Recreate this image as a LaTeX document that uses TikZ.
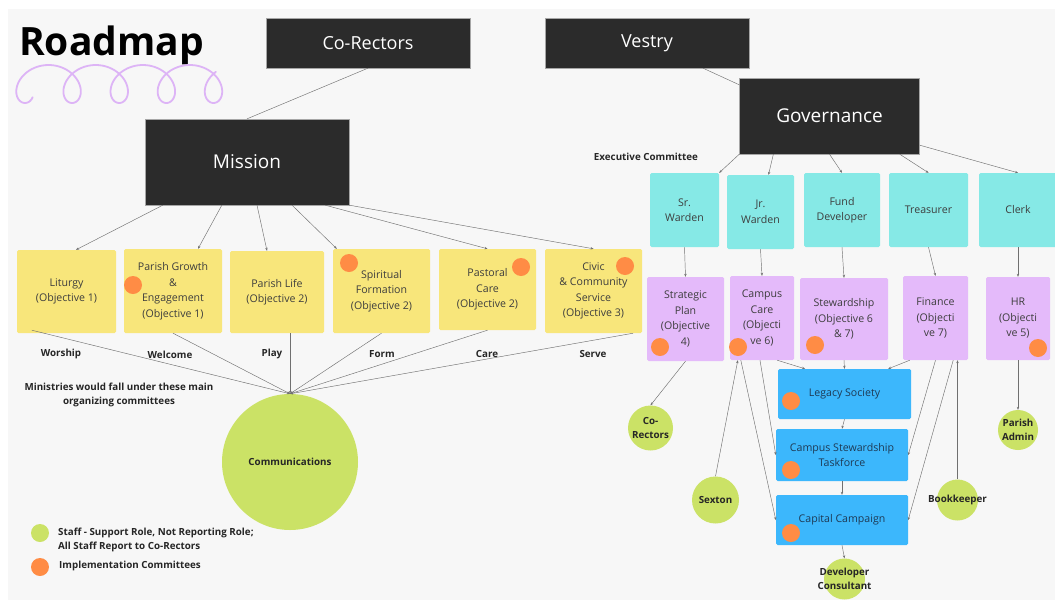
\documentclass[tikz,border=0pt]{standalone}
\usepackage{fontspec}
\setmainfont{Open Sans}
\usetikzlibrary{arrows.meta}

\definecolor{panel}{HTML}{F7F7F7}
\definecolor{ink}{HTML}{2B2B2B}
\definecolor{sticky}{HTML}{F8E67B}
\definecolor{aqua}{HTML}{86E9E6}
\definecolor{lilac}{HTML}{E4BAFA}
\definecolor{sky}{HTML}{3CB7FC}
\definecolor{lime}{HTML}{CBE266}
\definecolor{tang}{HTML}{FF8C45}
\definecolor{curl}{HTML}{DDB4F6}
\definecolor{wire}{HTML}{707070}
\definecolor{boxtxt}{HTML}{3D3D3D}
\definecolor{skytxt}{HTML}{1E3A55}

\begin{document}
\begin{tikzpicture}[x=1pt, y=-1pt,
  wh/.style 2 args={minimum width=#1, minimum height=#2},
  head/.style={rectangle, fill=ink, draw=gray!70, line width=0.3pt, text=white,
               inner sep=0pt, font=\fontsize{18}{20}\selectfont},
  obj/.style={rectangle, fill=sticky, rounded corners=1.5pt, inner sep=0pt,
              align=center, text=boxtxt, font=\fontsize{10.6}{15.5}\selectfont},
  officer/.style={obj, fill=aqua},
  cmte/.style={obj, fill=lilac},
  team/.style={obj, fill=sky, text=skytxt},
  staff/.style={circle, fill=lime, inner sep=0pt},
  impl/.style={circle, fill=tang, minimum size=18pt, inner sep=0pt},
  lbl/.style={text=black!85, font=\fontsize{9.8}{14}\selectfont\bfseries, inner sep=0pt},
  arr/.style={-{Stealth[length=3pt, width=2.4pt]}, line width=0.45pt, draw=wire},
  link/.style={line width=0.45pt, draw=wire}
]
\useasboundingbox (0,0) rectangle (1055,600);
\fill[white] (0,0) rectangle (1055,600);
\fill[panel] (8,9) rectangle (1055,600);

\node[anchor=base west, inner sep=0pt, font=\fontsize{39}{40}\selectfont\bfseries] (title) at (19,55) {Roadmap};
\draw[curl, line width=1.8pt, line cap=round]
  plot[domain=-0.8:27.4, samples=260, smooth] ({25+7.5*\x-19*sin(\x r)},{84+19*cos(\x r)});

\node[head, wh={204pt}{50pt}] (corect) at (368,43) {Co-Rectors};
\node[head, wh={204pt}{50pt}] (vestry) at (647,43) {Vestry};
\node[head, wh={180pt}{76pt}, font=\fontsize{19}{20}\selectfont] (gov) at (829.5,116) {Governance};
\node[head, wh={204pt}{86pt}, font=\fontsize{19}{20}\selectfont] (mission) at (247,162) {Mission};

\node[obj, wh={99pt}{83pt}] (lit)   at (66.5,291.5) {Liturgy\\(Objective 1)};
\node[obj, wh={98pt}{84pt}] (grow)  at (173,291)    {Parish Growth\\\&\\Engagement\\(Objective 1)};
\node[obj, wh={94pt}{82pt}] (life)  at (277,292)    {Parish Life\\(Objective 2)};
\node[obj, wh={97pt}{84pt}] (spir)  at (381.5,291)  {Spiritual\\Formation\\(Objective 2)};
\node[obj, wh={97pt}{81pt}] (past)  at (487.5,289.5){Pastoral\\Care\\(Objective 2)};
\node[obj, wh={97pt}{84pt}] (civic) at (593.5,291)  {Civic\\\& Community\\Service\\(Objective 3)};

\node[lbl] (worship) at (61,354)  {Worship};
\node[lbl] (welcome) at (170,355) {Welcome};
\node[lbl] (play)    at (272,354) {Play};
\node[lbl] (form)    at (382,354) {Form};
\node[lbl] (care)    at (487,354) {Care};
\node[lbl] (serve)   at (593,354) {Serve};
\node[lbl, align=center] (note) at (119,395) {Ministries would fall under these main\\organizing committees};
\node[lbl] (exec) at (646,157) {Executive Committee};

\node[staff, minimum size=136pt, label={[lbl]center:Communications}] (comm) at (290,462) {};

\node[officer, wh={69pt}{74pt}] (srw)   at (684.5,210) {Sr.\\Warden};
\node[officer, wh={67pt}{74pt}] (jrw)   at (760.5,212) {Jr.\\Warden};
\node[officer, wh={76pt}{74pt}] (fund)  at (842,210)   {Fund\\Developer};
\node[officer, wh={79pt}{74pt}] (treas) at (928.5,210) {Treasurer};
\node[officer, wh={78pt}{74pt}] (clerk) at (1018,210)  {Clerk};

\node[cmte, wh={77pt}{84pt}] (strat) at (685.5,319) {Strategic\\Plan\\(Objective\\4)};
\node[cmte, wh={64pt}{84pt}] (ccare) at (762,318)   {Campus\\Care\\(Objecti\\ve 6)};
\node[cmte, wh={88pt}{82pt}] (stew)  at (844,319)   {Stewardship\\(Objective 6\\\& 7)};
\node[cmte, wh={65pt}{84pt}] (fin)   at (935.5,318) {Finance\\(Objecti\\ve 7)};
\node[cmte, wh={64pt}{83pt}] (hr)    at (1018,318.5){HR\\(Objecti\\ve 5)};

\node[team, wh={133pt}{50pt}] (legacy) at (844.5,394) {Legacy Society};
\node[team, wh={132pt}{52pt}] (cst)    at (842,455)   {Campus Stewardship\\Taskforce};
\node[team, wh={132pt}{50pt}] (capc)   at (842,520)   {Capital Campaign};

\node[staff, minimum size=45pt, label={[lbl, align=center]center:Co-\\Rectors}] (gco) at (650.5,428) {};
\node[staff, minimum size=47pt, label={[lbl]center:Sexton}] (sexton) at (715.5,500) {};
\node[staff, minimum size=41pt, label={[lbl]center:Bookkeeper}] (bookk) at (957.5,500) {};
\node[staff, minimum size=40pt, label={[lbl, align=center]center:Parish\\Admin}] (padmin) at (1018,430) {};
\node[staff, minimum size=41pt, label={[lbl, align=center]center:Developer\\Consultant}] (devc) at (844.5,579) {};

\node[impl] (dgrow)   at (133,285) {};
\node[impl] (dspir)   at (349,263) {};
\node[impl] (dpast)   at (521,267) {};
\node[impl] (dcivic)  at (625,266) {};
\node[impl] (dstrat)  at (660,347) {};
\node[impl] (dccare)  at (738,347) {};
\node[impl] (dstew)   at (815,345) {};
\node[impl] (dhr)     at (1038,348) {};
\node[impl] (dlegacy) at (791,401) {};
\node[impl] (dcst)    at (791,470) {};
\node[impl] (dcapc)   at (791,533) {};

\node[staff, minimum size=18pt] (keystaff) at (40,533) {};
\node[impl] (keyimpl) at (40,567) {};
\node[lbl, anchor=west, align=left] (keystafftxt) at (58,540) {Staff - Support Role, Not Reporting Role;\\All Staff Report to Co-Rectors};
\node[lbl, anchor=west] (keyimpltxt) at (59,566) {Implementation Committees};

\draw[link] (corect.south) -- (mission.north);
\draw[link] ([xshift=56pt]vestry.south) -- ([yshift=-7pt]gov.north west);

\draw[arr] ([xshift=18pt]mission.south west) -- ([xshift=9.5pt]lit.north);
\draw[arr] ([xshift=77pt]mission.south west) -- ([xshift=25pt]grow.north);
\draw[arr] ([xshift=10pt]mission.south) -- ([xshift=-10pt]life.north);
\draw[arr] ([xshift=45pt]mission.south) -- ([xshift=4pt]spir.north west);
\draw[arr] ([xshift=-24pt]mission.south east) -- (past.north);
\draw[arr] (mission.south east) -- (civic.north);

\draw[arr] ([xshift=15pt,yshift=3pt]lit.south west) -- (comm.north);
\draw[arr] (grow.south) -- (comm.north);
\draw[arr] ([xshift=13pt]life.south) -- (comm.north);
\draw[arr] (spir.south) -- (comm.north);
\draw[arr] (past.south) -- (comm.north);
\draw[arr] ([xshift=-9pt]civic.south east) -- (comm.north);

\draw[arr] (gov.south west) -- (srw.north east);
\draw[arr] ([xshift=34pt]gov.south west) -- ([xshift=8pt]jrw.north);
\draw[arr] (gov.south) -- (fund.north);
\draw[arr] ([xshift=-20pt]gov.south east) -- (treas.north);
\draw[arr] ([yshift=9pt]gov.south east) -- (clerk.north);

\draw[arr] (srw.south) -- (strat.north);
\draw[arr] (jrw.south) -- (ccare.north);
\draw[arr] (fund.south) -- (stew.north);
\draw[arr] (treas.south) -- (fin.north);
\draw[arr] (clerk.south) -- (hr.north);

\draw[arr] (strat.south) -- (gco.north);
\draw[arr] (sexton.north) -- ([xshift=8pt]ccare.south west);
\draw[arr] ([xshift=11pt]ccare.south west) -- (capc.west);
\draw[arr] ([xshift=-2pt]ccare.south) -- (cst.west);
\draw[arr] ([xshift=-17pt]ccare.south east) -- ([xshift=-39.5pt]legacy.north);
\draw[arr] (stew.south) -- (legacy.north);
\draw[arr] ([xshift=7pt]fin.south west) -- ([xshift=-23pt]legacy.north east);
\draw[arr] (fin.south) -- (cst.east);
\draw[arr] ([xshift=-15pt]fin.south east) -- (capc.east);
\draw[arr] (bookk.north) -- (bookk.north |- fin.south);
\draw[arr] (hr.south) -- (padmin.north);
\draw[arr] (legacy.south) -- (cst.north);
\draw[arr] (cst.south) -- (capc.north);
\draw[arr] (capc.south) -- (devc.north);
\end{tikzpicture}
\end{document}
